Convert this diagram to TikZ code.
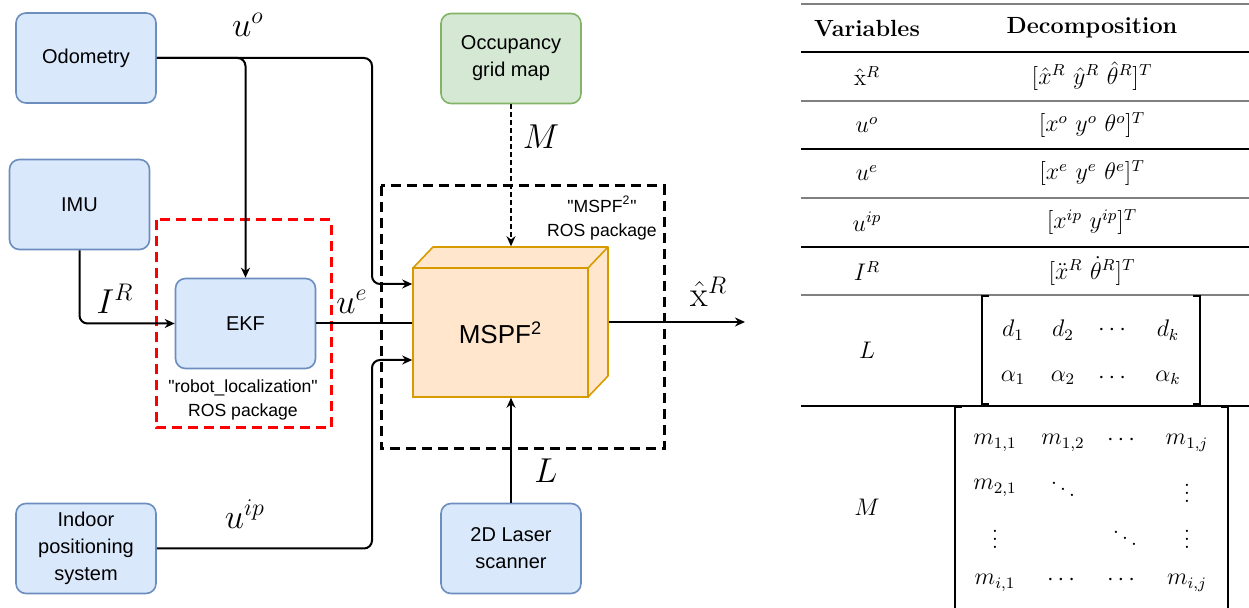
\documentclass[tikz,border=0pt]{standalone}
\usepackage{amsmath,amssymb}
\usepackage{fontspec}
\newfontfamily\arialfont{Liberation Sans}[Ligatures=TeXOff]
\usetikzlibrary{arrows.meta,calc,positioning}
\definecolor{bluefill}{HTML}{DAE8FC}
\definecolor{bluedraw}{HTML}{6C8EBF}
\definecolor{greenfill}{HTML}{D5E8D4}
\definecolor{greendraw}{HTML}{82B366}
\definecolor{cubefill}{HTML}{FFE6CC}
\definecolor{cubedraw}{HTML}{D79B00}
\definecolor{rulegray}{gray}{0.5}

\begin{document}
\begin{tikzpicture}[x=0.5pt,y=-0.5pt,>={Stealth[length=5pt,width=4.5pt]},
	blk/.style={draw=bluedraw,fill=bluefill,line width=0.8pt,rounded corners=5pt,minimum width=70pt,minimum height=45pt,align=center,font=\arialfont\fontsize{10}{13.5}\selectfont},
	grn/.style={blk,draw=greendraw,fill=greenfill},
	flow/.style={->,line width=1pt,rounded corners=4pt},
	pkg/.style={line width=1.5pt,dash pattern=on 5pt off 3pt},
	lbl/.style={inner sep=0.5pt,font=\fontsize{18}{20}\selectfont},
	note/.style={align=center,inner sep=0.5pt,font=\arialfont\fontsize{8.8}{12}\selectfont},
	tab/.style={inner sep=0.5pt,font=\fontsize{11.7}{14}\selectfont},
	rulea/.style={rulegray,line width=1pt},
	ruleb/.style={black,line width=0.6pt}]
	\useasboundingbox (0,0) rectangle (1249,608);
	\node[blk] (odo) at (86,58) {Odometry};
	\node[blk] (imu) at (79.5,204.5) {IMU};
	\node[blk] (ekf) at (245.5,323.5) {EKF};
	\node[blk] (ips) at (86,548.5) {Indoor\\positioning\\system};
	\node[grn] (occ) at (511,58.5) {Occupancy\\grid map};
	\node[blk] (laser) at (511,548.5) {2D Laser\\scanner};
	\filldraw[draw=cubedraw,fill=cubefill,line width=0.8pt,line join=round] (413,268) -- ++(10pt,10.5pt) -- ++(87.5pt,0pt) -- ++(0pt,-64.5pt) -- (588,397) -- (588,268) -- cycle;
	\draw[cubedraw,line width=0.8pt] (588,268) -- ++(10pt,10.5pt);
	\node[draw=cubedraw,fill=cubefill,line width=0.8pt,minimum width=87.5pt,minimum height=64.5pt,inner sep=0pt,font=\arialfont\fontsize{13}{15}\selectfont] (mspf) at (500.5,332.5) {MSPF\textsuperscript{2}};
	\draw[pkg,red] (156,220) rectangle (331,428);
	\draw[pkg] (381,186) rectangle (664,449);
	\node[note] (rlnote) at (243,400) {"robot\_localization"\\ROS package};
	\node[note] (mspfnote) at (602,218) {"MSPF\textsuperscript{2}"\\ROS package};
	\coordinate (busx) at (372,0);
	\coordinate (in1) at ($(mspf.west)+(0,-48.5)$);
	\coordinate (in3) at ($(mspf.west)+(0,27.5)$);
	\coordinate (mtop) at ($(mspf.north)+(0,-21)$);
	\coordinate (mside) at ($(mspf.east)+(20,-10.5)$);
	\coordinate (xout) at (745,322);
	\draw[flow] (odo.east) -| (ekf.north);
	\draw[flow] (odo.east) -| (busx |- in1) -- (in1);
	\draw[flow] (imu.south) |- (ekf.west);
	\draw[line width=1pt] (ekf.east) -- (ekf.east -| mspf.west);
	\draw[flow] (ips.east) -| (busx |- in3) -- (in3);
	\draw[flow,dash pattern=on 2.5pt off 1.5pt] (occ.south) -- (occ.south |- mtop);
	\draw[flow] (laser.north) -- (laser.north |- mspf.south);
	\draw[flow] (mside) -- (xout);
	\node[lbl] (uo) at (248,25) {$u^o$};
	\node[lbl] (ir) at (115,299) {$I^R$};
	\node[lbl] (ue) at (352,302) {$u^e$};
	\node[lbl] (uip) at (245,514) {$u^{ip}$};
	\node[lbl] (mlbl) at (541,137) {$M$};
	\node[lbl] (llbl) at (546,471) {$L$};
	\node[lbl] (xlbl) at (709,292) {$\hat{\mathrm{x}}^R$};
	\foreach \yy in {4,101,198,295}
		\draw[rulea] (801,\yy) -- (1249,\yy);
	\foreach \yy in {52,149,247,406}
		\draw[ruleb] (801,\yy) -- (1249,\yy);
	\node[tab] (hvar) at (867,28) {\textbf{Variables}};
	\node[tab] (hdec) at (1092,28) {\textbf{Decomposition}};
	\foreach \yy/\nm/\dc [count=\i] in {76/{\hat{\mathrm{x}}^R}/{[\hat{x}^R\ \hat{y}^R\ \hat{\theta}^R]^T},
		125/{u^o}/{[x^o\ y^o\ \theta^o]^T},
		173/{u^e}/{[x^e\ y^e\ \theta^e]^T},
		222/{u^{ip}}/{[x^{ip}\ y^{ip}]^T},
		271/{I^R}/{[\ddot{x}^R\ \dot{\theta}^R]^T}}{
		\node[tab] (var\i) at (867,\yy) {$\nm$};
		\node[tab] (dec\i) at (1092,\yy) {$\dc$};
	}
	\node[tab] (lvar) at (867,350) {$L$};
	\node[tab] (mvar) at (867,507) {$M$};
	\draw[black,line width=0.8pt] (989,296) -| (982,404) -- (989,404);
	\draw[black,line width=0.8pt] (1193,296) -| (1200,404) -- (1193,404);
	\foreach \xx/\yy/\e [count=\i] in {1013/330/{d_1},1063/330/{d_2},1114/330/{\cdots},1168/330/{d_k},
		1013/378/{\alpha_1},1063/378/{\alpha_2},1114/378/{\cdots},1168/378/{\alpha_k}}
		\node[tab] (ld\i) at (\xx,\yy) {$\e$};
	\draw[black,line width=0.8pt] (962,407) -| (955,608);
	\draw[black,line width=0.8pt] (1221,407) -| (1228,608);
	\foreach \xx/\yy/\e [count=\i] in {995/443/{m_{1,1}},1063/443/{m_{1,2}},1123/440/{\cdots},1187/443/{m_{1,j}},
		995/488/{m_{2,1}},1063/483/{\ddots},1187/487/{\vdots},
		995/533/{\vdots},1125/532/{\ddots},1187/533/{\vdots},
		995/583/{m_{i,1}},1063/580/{\cdots},1123/580/{\cdots},1187/583/{m_{i,j}}}
		\node[tab] (me\i) at (\xx,\yy) {$\e$};
\end{tikzpicture}
\end{document}
